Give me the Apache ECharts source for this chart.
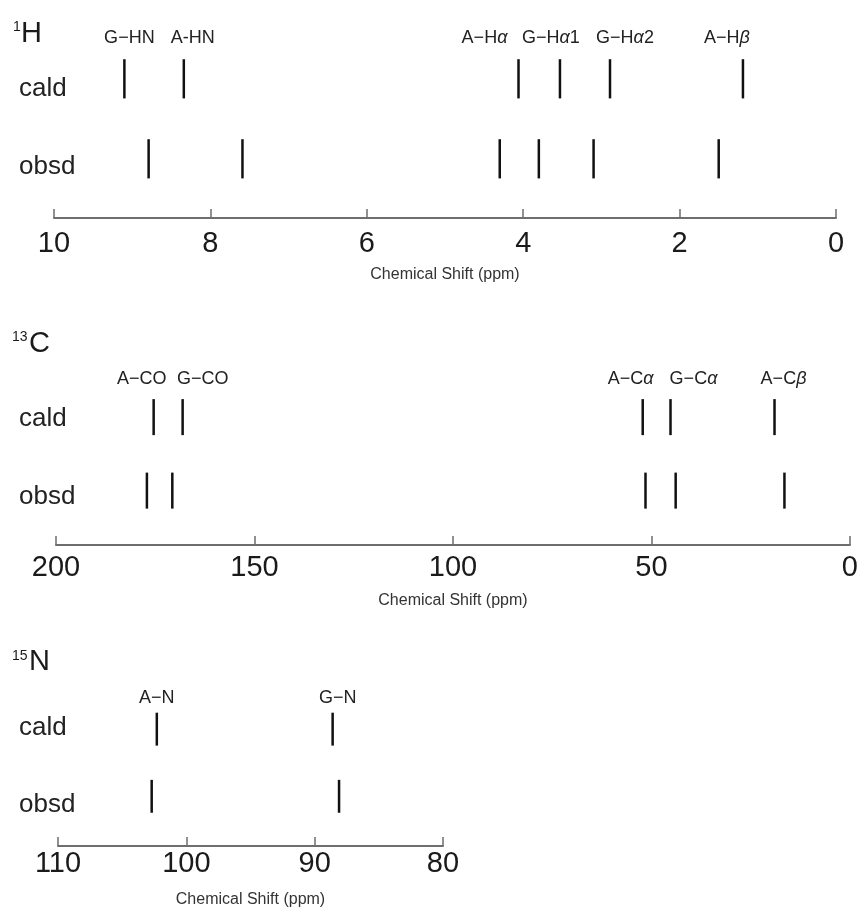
<!DOCTYPE html>
<html><head><meta charset="utf-8">
<script src="https://cdn.jsdelivr.net/npm/echarts@6/dist/echarts.min.js"></script>
<style>html,body{margin:0;padding:0;background:#fff}#c{width:861px;height:909px}</style>
</head><body><div id="c"></div>
<script>
// ---------------- data ----------------
const hPeaks = ['G−HN', 'A-HN', 'A−Hα', 'G−Hα1', 'G−Hα2', 'A−Hβ'];
const hCald  = [9.10, 8.34, 4.06, 3.53, 2.89, 1.19];
const hObsd  = [8.79, 7.59, 4.30, 3.80, 3.10, 1.50];
const hTicks = [10, 8, 6, 4, 2, 0];

const cPeaks = ['A−CO', 'G−CO', 'A−Cα', 'G−Cα', 'A−Cβ'];
const cCald  = [175.4, 168.1, 52.2, 45.2, 19.0];
const cObsd  = [177.1, 170.7, 51.5, 43.9, 16.5];
const cTicks = [200, 150, 100, 50, 0];

const nPeaks = ['A−N', 'G−N'];
const nCald  = [102.3, 88.6];
const nObsd  = [102.7, 88.1];
const nTicks = [110, 100, 90, 80];

const rowNames = ['cald', 'obsd'];
const axisName = 'Chemical Shift (ppm)';

// ---------------- layout / style ----------------
const FONT = "'Liberation Sans', Arial, Helvetica, sans-serif";
const ROW_CALD = 1.74, ROW_OBSD = 0.74, HALF = 0.245;

const panels = [
  { mass: '1', nuc: 'H', peaks: hPeaks, cald: hCald, obsd: hObsd, ticks: hTicks,
    grid: { left: 54, right: 25, top: 58, height: 160 },
    title: { supX: 13, supY: 27, x: 21, y: 34 }, rowY: [89, 167],
    labelGap: 21, labelDx: [5, 9, -34, -9, 15, -16], margin: 11, nameGap: 49 },
  { mass: '13', nuc: 'C', peaks: cPeaks, cald: cCald, obsd: cObsd, ticks: cTicks,
    grid: { left: 56, right: 10, top: 398, height: 147 },
    title: { supX: 12, supY: 337, x: 29, y: 344 }, rowY: [419, 497],
    labelGap: 20, labelDx: [-12, 20, -12, 23, 9], margin: 8, nameGap: 48 },
  { mass: '15', nuc: 'N', peaks: nPeaks, cald: nCald, obsd: nObsd, ticks: nTicks,
    grid: { left: 58, right: 418, top: 711.7, height: 135 },
    title: { supX: 12, supY: 656, x: 29, y: 662 }, rowY: [728, 805],
    labelGap: 15, labelDx: [0, 5], margin: 3, nameGap: 46 }
];

function richify(s) {
  return s.replace(/([αβ])/g, '{g|$1}');
}
const RICH = {
  g: { fontStyle: 'italic', fontFamily: FONT, fontSize: 18, fill: '#222', color: '#222' }
};

function makeRender(p, withLabel) {
  return function (params, api) {
    const x = api.value(0), row = api.value(1);
    const a = api.coord([x, row + HALF]);
    const b = api.coord([x, row - HALF]);
    const children = [{
      type: 'line',
      shape: { x1: a[0], y1: a[1], x2: b[0], y2: b[1] },
      style: { stroke: '#111', lineWidth: 2.5 }
    }];
    if (withLabel) {
      const i = params.dataIndex;
      children.push({
        type: 'text',
        x: a[0] + p.labelDx[i], y: a[1] - p.labelGap,
        style: {
          text: richify(p.peaks[i]), rich: RICH,
          align: 'center', verticalAlign: 'middle',
          fill: '#222', fontSize: 18, fontFamily: FONT
        }
      });
    }
    return { type: 'group', children };
  };
}

const grids = [], xAxes = [], yAxes = [], series = [], graphics = [];
panels.forEach((p, i) => {
  grids.push(Object.assign({ containLabel: false }, p.grid));
  const mn = Math.min(...p.ticks), mx = Math.max(...p.ticks);
  const step = Math.abs(p.ticks[0] - p.ticks[1]);
  xAxes.push({
    gridIndex: i, type: 'value', inverse: true, min: mn, max: mx, interval: step,
    position: 'bottom',
    axisLine: { show: true, onZero: false, lineStyle: { color: '#6e6e6e', width: 2 } },
    axisTick: { show: true, inside: true, length: 9, lineStyle: { color: '#6e6e6e', width: 1.5 } },
    axisLabel: { fontSize: 29, color: '#1a1a1a', fontFamily: FONT, margin: p.margin,
                 formatter: v => String(v) },
    splitLine: { show: false },
    name: axisName, nameLocation: 'middle', nameGap: p.nameGap,
    nameTextStyle: { fontSize: 16, color: '#333', fontFamily: FONT }
  });
  yAxes.push({ gridIndex: i, type: 'value', min: 0, max: 2, show: false });
  series.push({
    type: 'custom', xAxisIndex: i, yAxisIndex: i,
    data: p.cald.map(v => [v, ROW_CALD]),
    renderItem: makeRender(p, true), silent: true
  });
  series.push({
    type: 'custom', xAxisIndex: i, yAxisIndex: i,
    data: p.obsd.map(v => [v, ROW_OBSD]),
    renderItem: makeRender(p, false), silent: true
  });
  graphics.push({ type: 'text', x: p.title.supX, y: p.title.supY,
    style: { text: p.mass, fontSize: 14, fontFamily: FONT, fill: '#1a1a1a', verticalAlign: 'middle' } });
  graphics.push({ type: 'text', x: p.title.x, y: p.title.y,
    style: { text: p.nuc, fontSize: 29, fontFamily: FONT, fill: '#1a1a1a', verticalAlign: 'middle' } });
  rowNames.forEach((r, k) => {
    graphics.push({ type: 'text', x: 19, y: p.rowY[k],
      style: { text: r, fontSize: 26, fontFamily: FONT, fill: '#222', verticalAlign: 'middle' } });
  });
});

const chart = echarts.init(document.getElementById('c'), null, { renderer: 'canvas' });
chart.setOption({
  backgroundColor: '#fff',
  animation: false,
  grid: grids, xAxis: xAxes, yAxis: yAxes, series: series,
  graphic: graphics
});
</script>
</body></html>
